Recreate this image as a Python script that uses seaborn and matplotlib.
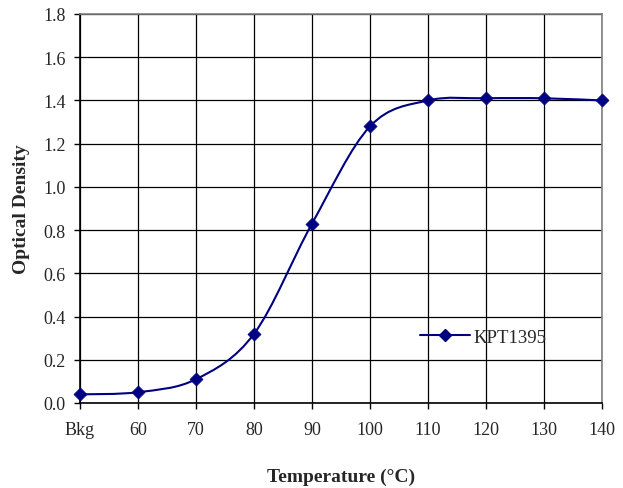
import matplotlib
matplotlib.use("Agg")
import matplotlib.pyplot as plt
from matplotlib.path import Path
from matplotlib.patches import PathPatch
from matplotlib.lines import Line2D
import numpy as np
import pandas as pd
import seaborn as sns

categories = ["Bkg", "60", "70", "80", "90", "100", "110", "120", "130", "140"]
optical_density = [0.04, 0.05, 0.11, 0.32, 0.83, 1.28, 1.40, 1.41, 1.41, 1.40]
series_name = "KPT1395"
y_ticks = [0.0, 0.2, 0.4, 0.6, 0.8, 1.0, 1.2, 1.4, 1.6, 1.8]

sns.set_theme(style="white")
plt.rcParams['font.family'] = ['Liberation Serif', 'DejaVu Serif']

navy = "#000080"
df = pd.DataFrame({"x": np.arange(len(categories)), "y": optical_density})

fig = plt.figure(figsize=(6.23, 4.89), dpi=100)
ax = fig.add_axes([80/623, 1-404/489, (602-80)/623, (404-15)/489])

# Smoothed line (Catmull-Rom style Bezier, as in spreadsheet smoothing)
pts = df[["x", "y"]].to_numpy(dtype=float)
ext = np.vstack([pts[0], pts, pts[-1]])
verts = [tuple(pts[0])]
codes = [Path.MOVETO]
for i in range(len(pts) - 1):
    p0, p1, p2, p3 = ext[i], ext[i+1], ext[i+2], ext[i+3]
    c1 = p1 + (p2 - p0) / 6.0
    c2 = p2 - (p3 - p1) / 6.0
    verts += [tuple(c1), tuple(c2), tuple(p2)]
    codes += [Path.CURVE4] * 3
ax.add_patch(PathPatch(Path(verts, codes), facecolor="none", edgecolor=navy,
                       lw=1.5, zorder=3, clip_on=False))

sns.scatterplot(data=df, x="x", y="y", marker="D", s=44, color=navy,
                edgecolor=navy, linewidth=0.5, ax=ax, zorder=4, legend=False,
                clip_on=False)

ax.set_xlim(0, len(categories) - 1)
ax.set_ylim(0, 1.8)
ax.set_xticks(df["x"])
ax.set_xticklabels(categories)
ax.set_yticks(y_ticks)
ax.set_yticklabels([f"{v:.1f}" for v in y_ticks])
ax.grid(True, color="black", lw=0.9)
ax.set_axisbelow(True)

for s in ["left", "bottom"]:
    ax.spines[s].set_color("black")
    ax.spines[s].set_linewidth(1.2)
for s in ["top", "right"]:
    ax.spines[s].set_color("#808080")
    ax.spines[s].set_linewidth(1.2)

ax.tick_params(axis="both", which="major", direction="out", length=4.5,
               width=1.0, color="black", labelsize=13, left=True, bottom=True)
ax.tick_params(axis="x", pad=8.5)
ax.tick_params(axis="y", pad=6)

ax.set_xlabel("Temperature (°C)", fontweight="bold", fontsize=14, va="center")
ax.set_ylabel("Optical Density", fontweight="bold", fontsize=14, va="center")
ax.xaxis.set_label_coords(0.5, (404-477)/389)
ax.yaxis.set_label_coords((22-80)/522, 0.5)

fs_leg = 13.5
handle = Line2D([], [], color=navy, lw=1.5, marker="D", markersize=6.6,
                markerfacecolor=navy, markeredgecolor=navy)
ax.legend([handle], [series_name], loc="center left",
          bbox_to_anchor=((420-80)/522, (404-338)/389), frameon=False,
          fontsize=fs_leg, borderpad=0, borderaxespad=0,
          handlelength=50/(fs_leg*100/72), handletextpad=3/(fs_leg*100/72))

fig.savefig("out.png", dpi=100)
